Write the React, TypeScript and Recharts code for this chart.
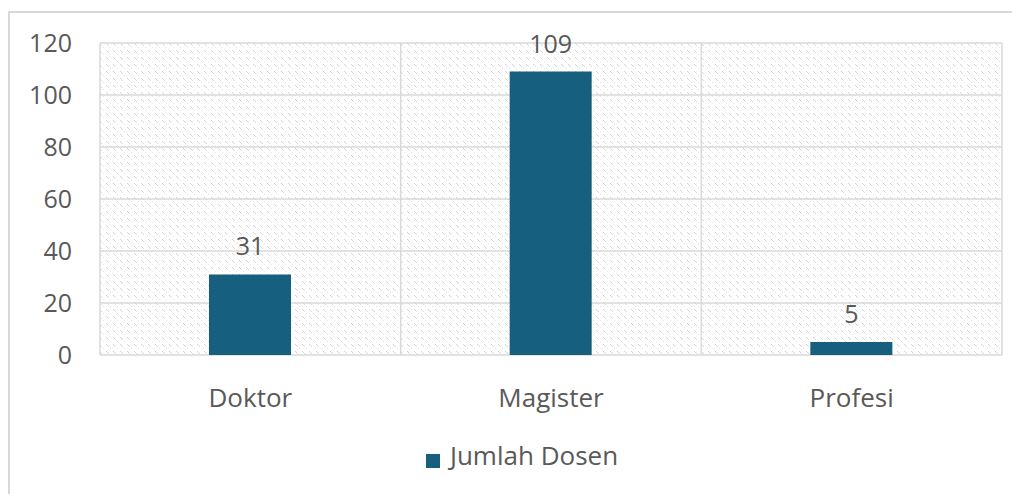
import React from "react";
import { BarChart, Bar, XAxis, YAxis, CartesianGrid, Legend, LabelList } from "recharts";

const categories = ["Doktor", "Magister", "Profesi"];
const jumlahDosen = [31, 109, 5];
const yTicks = [0, 20, 40, 60, 80, 100, 120];
const seriesName = "Jumlah Dosen";

const data = categories.map((c, i) => ({ name: c, value: jumlahDosen[i], idx: i + 0.5 }));

const FONT = "'Open Sans', 'Noto Sans', sans-serif";
const TEXT = "#595959";
const BAR = "#175F7F";

export default function App() {
  return (
    <div style={{ position: "relative", width: 1012, height: 486, fontFamily: FONT }}>
      <div
        style={{
          position: "absolute",
          left: 0,
          top: 3,
          width: 1020,
          height: 490,
          borderTop: "2px solid #d9d9d9",
          borderLeft: "2px solid #d9d9d9",
          boxSizing: "border-box",
        }}
      />
      <div style={{ position: "absolute", left: 0, top: 0 }}>
        <BarChart
          width={1012}
          height={486}
          data={data}
          margin={{ top: 35, right: 18, left: 0, bottom: 0 }}
          barSize={82}
        >
          <defs>
            <pattern id="hatch" width="7" height="7" patternUnits="userSpaceOnUse">
              <rect x="0" y="0" width="7" height="7" fill="#ffffff" />
              <rect x="0" y="0" width="1" height="1" fill="#d4d4d4" />
              <rect x="1" y="1" width="1" height="1" fill="#d4d4d4" />
              <rect x="2" y="2" width="1" height="1" fill="#dcdcdc" />
              <rect x="4" y="4" width="1" height="1" fill="#e4e4e4" />
            </pattern>
          </defs>
          <CartesianGrid
            xAxisId="grid"
            stroke="#d9d9d9"
            strokeWidth={1.5}
            fill="url(#hatch)"
            fillOpacity={1}
          />
          <XAxis
            dataKey="name"
            axisLine={false}
            tickLine={false}
            tickMargin={28}
            tick={{ fill: TEXT, fontSize: 26, fontFamily: FONT }}
            height={82}
          />
          <XAxis
            xAxisId="grid"
            type="number"
            domain={[0, 3]}
            ticks={[0, 1, 2, 3]}
            dataKey="idx"
            hide
          />
          <YAxis
            domain={[0, 120]}
            ticks={yTicks}
            axisLine={false}
            tickLine={false}
            width={92}
            tickMargin={22}
            tick={{ fill: TEXT, fontSize: 25, fontFamily: FONT }}
            interval={0}
          />
          <Legend
            verticalAlign="bottom"
            iconType="square"
            iconSize={14}
            height={57}
            wrapperStyle={{ paddingLeft: 22 }}
            formatter={(v) => (
              <span style={{ color: TEXT, fontSize: 26, fontFamily: FONT, marginLeft: 6 }}>{v}</span>
            )}
          />
          <Bar dataKey="value" name={seriesName} fill={BAR} isAnimationActive={false}>
            <LabelList
              dataKey="value"
              position="top"
              offset={19}
              style={{ fill: TEXT, fontSize: 25, fontFamily: FONT }}
            />
          </Bar>
        </BarChart>
      </div>
    </div>
  );
}
